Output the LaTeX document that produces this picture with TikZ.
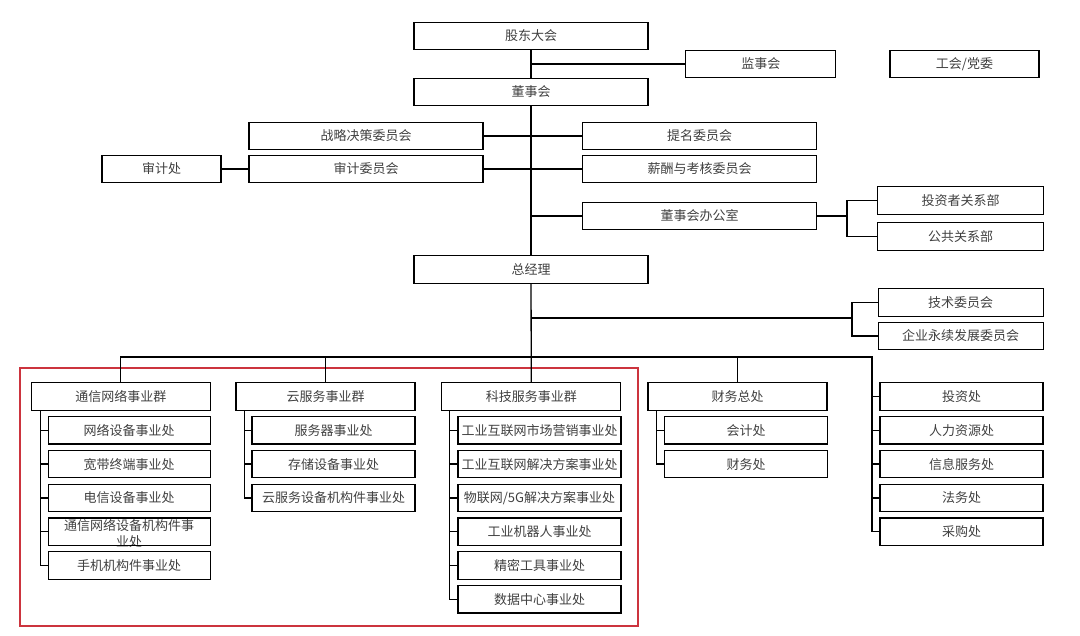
\documentclass[tikz,border=0pt]{standalone}
\usepackage{fontspec}
\newfontfamily\cjk{Noto Sans CJK SC}
\definecolor{framered}{RGB}{204,52,62}

\begin{document}
\begin{tikzpicture}[x=1pt, y=-1pt,
      orgbox/.style={draw, line width=1.3pt, minimum height=27.5pt, inner sep=0pt,
        text=black!75, font=\cjk\fontsize{13}{16}\selectfont},
      boardbox/.style={orgbox, minimum width=234pt},
      groupbox/.style={orgbox, minimum width=179pt},
      unitbox/.style={orgbox, minimum width=163pt},
      link/.style={line width=1.3pt}
    ]
    \useasboundingbox (0,0) rectangle (1080,636);
    % highlighted business groups
    \draw[framered, line width=2pt] (20,367.7) rectangle (637.5,626);
    % shareholders and board
    \node[boardbox] (gd) at (531,36) {股东大会};
    \node[orgbox, minimum width=150pt] (jsh) at (760.8,64) {监事会};
    \node[orgbox, minimum width=149pt] (gh) at (964.5,64) {工会/党委};
    \node[boardbox] (dsh) at (531,92) {董事会};
    \node[boardbox] (zl) at (366,136) {战略决策委员会};
    \node[boardbox] (sj) at (366,169) {审计委员会};
    \node[orgbox, minimum width=119pt] (sjc) at (161.5,169) {审计处};
    \node[boardbox] (tm) at (699.5,136) {提名委员会};
    \node[boardbox] (xc) at (699.5,169) {薪酬与考核委员会};
    \node[boardbox] (bgs) at (699.5,216) {董事会办公室};
    \node[orgbox, minimum width=166pt] (tzz) at (960.5,200.5) {投资者关系部};
    \node[orgbox, minimum width=166pt] (gg) at (960.5,236.5) {公共关系部};
    \node[boardbox] (zjl) at (531,269.5) {总经理};
    \node[orgbox, minimum width=165pt] (js) at (960.7,302.5) {技术委员会};
    \node[orgbox, minimum width=165pt] (qy) at (960.7,336) {企业永续发展委员会};
    % groups
    \node[groupbox] (g1) at (120.8,396.5) {通信网络事业群};
    \node[groupbox] (g2) at (325.5,396.5) {云服务事业群};
    \node[groupbox] (g3) at (531.3,396.5) {科技服务事业群};
    \node[groupbox] (g4) at (737.5,396.5) {财务总处};
    \node[orgbox, align=center, draw=none, minimum height=0pt] (a4t) at (129.2,533) {通信网络设备机构件事\\业处};
    \foreach \t [count=\i] in {网络设备事业处, 宽带终端事业处, 电信设备事业处, {}, 手机机构件事业处}
      \node[unitbox, minimum width=162pt] (a\i) at (129.2,396.5+33.8*\i) {\t};
    \foreach \t [count=\i] in {服务器事业处, 存储设备事业处, 云服务设备机构件事业处}
      \node[unitbox] (b\i) at (333.5,396.5+33.8*\i) {\t};
    \foreach \t [count=\i] in {工业互联网市场营销事业处, 工业互联网解决方案事业处, 物联网/5G解决方案事业处,
        工业机器人事业处, 精密工具事业处, 数据中心事业处}
      \node[unitbox] (c\i) at (539.5,396.5+33.8*\i) {\t};
    \foreach \t [count=\i] in {会计处, 财务处}
      \node[unitbox] (d\i) at (746,396.5+33.8*\i) {\t};
    \foreach \t [count=\i] in {投资处, 人力资源处, 信息服务处, 法务处, 采购处}
      \node[unitbox] (r\i) at (961.5,396.5+33.8*\i-33.8) {\t};
    % main spine
    \draw[link] (gd) -- (dsh);
    \draw[link] (dsh) -- (zjl);
    \draw[link] (zjl) -- (g3);
    \draw[link] (jsh.west) -- (jsh.west -| gd.south);
    \draw[link] (zl.east) -- (zl.east -| dsh.south);
    \draw[link] (sj.east) -- (sj.east -| dsh.south);
    \draw[link] (tm.west) -- (tm.west -| dsh.south);
    \draw[link] (xc.west) -- (xc.west -| dsh.south);
    \draw[link] (bgs.west) -- (bgs.west -| dsh.south);
    \draw[link] (sjc) -- (sj);
    \coordinate (bk1) at (847,216);
    \draw[link] (bgs) -- (bk1);
    \draw[link] (tzz.west) -| (bk1) |- (gg.west);
    \coordinate (bk2) at (852,318);
    \draw[link] (zjl.south |- bk2) -- (bk2);
    \draw[link] (js.west) -| (bk2) |- (qy.west);
    % bus to the groups
    \coordinate (bus) at (872,357);
    \draw[link] (g1.north) |- (bus) |- (r5.west);
    \draw[link] (g2.north) -- (g2.north |- bus);
    \draw[link] (g4.north) -- (g4.north |- bus);
    \foreach \i in {1,...,4}
      \draw[link] (r\i.west) -- (r\i.west -| bus);
    % group spines
    \draw[link] ([xshift=10pt]g1.south west) |- (a5.west);
    \foreach \i in {1,...,4}
      \draw[link] (a\i.west) -- ++(-6.6,0);
    \draw[link] ([xshift=9pt]g2.south west) |- (b3.west);
    \foreach \i in {1,2}
      \draw[link] (b\i.west) -- ++(-7,0);
    \draw[link] ([xshift=8.4pt]g3.south west) |- (c6.west);
    \foreach \i in {1,...,5}
      \draw[link] (c\i.west) -- ++(-8,0);
    \draw[link] ([xshift=9.2pt]g4.south west) |- (d2.west);
    \draw[link] (d1.west) -- ++(-7.8,0);
  \end{tikzpicture}
\end{document}
